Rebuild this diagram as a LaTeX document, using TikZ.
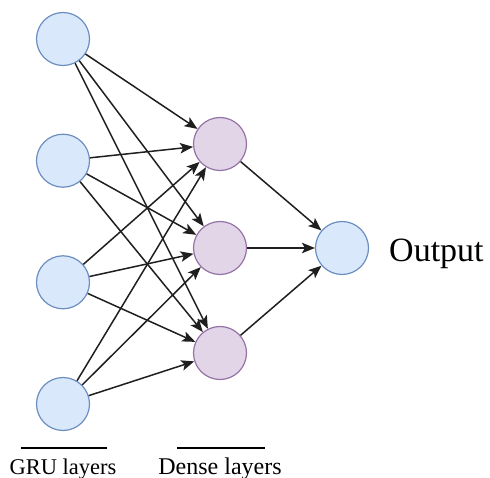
\documentclass[tikz,border=0pt]{standalone}
\usepackage{fontspec}
\setmainfont{Liberation Serif}
\usetikzlibrary{arrows.meta}
\definecolor{gruFill}{HTML}{DAE8FC}
\definecolor{gruLine}{HTML}{6C8EBF}
\definecolor{denseFill}{HTML}{E1D5E7}
\definecolor{denseLine}{HTML}{9673A6}
\definecolor{edgeCol}{HTML}{1F1F1F}
\begin{document}
\begin{tikzpicture}[x=1pt,y=-1pt,
  unit/.style={circle,minimum size=53pt,inner sep=0pt,line width=1.2pt},
  gru/.style={unit,draw=gruLine,fill=gruFill},
  dense/.style={unit,draw=denseLine,fill=denseFill},
  link/.style={draw=edgeCol,line width=1.5pt,-{Stealth[length=13pt,width=10.5pt,inset=3pt]}},
  caption/.style={anchor=base,inner sep=0pt}]
\useasboundingbox (0,0) rectangle (490,478);
% input (GRU) units
\node[gru] (g1) at (63,39) {};
\node[gru] (g2) at (63,160.7) {};
\node[gru] (g3) at (63,282.3) {};
\node[gru] (g4) at (63,404) {};
% dense units
\node[dense] (d1) at (220,144) {};
\node[dense] (d2) at (220,248) {};
\node[dense] (d3) at (220,353) {};
% output unit
\node[gru] (o) at (342,248) {};
% fully connected GRU -> dense
\foreach \i in {1,...,4}
  \foreach \j in {1,2,3}
    \path[link] (g\i) -- (d\j);
% dense -> output
\foreach \j in {1,2,3}
  \path[link] (d\j) -- (o);
% labels
\node[caption,anchor=base west,font=\fontsize{34}{40}\selectfont] (ot) at (389,262) {Output};
\coordinate (ga) at (21,448);
\coordinate (gb) at (107,448);
\coordinate (da) at (177,448);
\coordinate (db) at (265,448);
\draw[line width=1.2pt] (ga) -- (gb);
\draw[line width=1.2pt] (da) -- (db);
\node[caption,font=\fontsize{22.5}{26}\selectfont] (gl) at (63,474) {GRU layers};
\node[caption,font=\fontsize{24}{28}\selectfont] (dl) at (220,474) {Dense layers};
\end{tikzpicture}
\end{document}
